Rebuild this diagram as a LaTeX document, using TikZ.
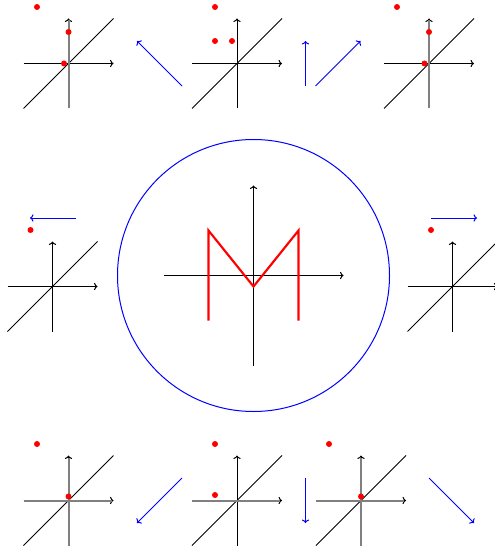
\documentclass[tikz,border=0pt]{standalone}
\usetikzlibrary{arrows.meta}
\begin{document}
\begin{tikzpicture}[x=0.75pt,y=-0.75pt,
  axisline/.style={black,line width=0.75pt},
  axarrow/.style={axisline,-{To[length=2.6pt,width=5.5pt]}},
  hilite/.style={gray,line width=1.5pt},
  mover/.style={blue,line width=0.75pt,-{To[length=2.6pt,width=5.5pt]}},
  dot/.style={red,fill=red},
  mshape/.style={red,line width=1.6pt,line join=miter}]
\useasboundingbox (0,0) rectangle (494,552);

% small plot: #1 = origin
\newcommand\myplot[1]{%
  \begin{scope}[shift={#1}]
    \draw[axarrow] (-45,0) -- (45,0);
    \draw[axarrow] (0,45) -- (0,-45);
    \draw[axisline] (-45,45) -- (45,-45);
  \end{scope}}

% ---- top row ----
\myplot{(68.5,63.5)}
\draw[hilite] (68.5,108.5) -- (68.5,20.5);
\fill[dot] (37,7) circle (3);
\fill[dot] (68.5,32) circle (3);
\fill[dot] (64,63.5) circle (3);

\coordinate (a1s) at (182,86); \coordinate (a1e) at (137,41);
\draw[mover] (a1s) -- (a1e);

\myplot{(237,63.5)}
\fill[dot] (215,7) circle (3);
\fill[dot] (215,41) circle (3);
\fill[dot] (232,41) circle (3);

\coordinate (a2s) at (305.5,86); \coordinate (a2e) at (305.5,41);
\draw[mover] (a2s) -- (a2e);
\coordinate (a3s) at (315.5,86); \coordinate (a3e) at (360.5,41);
\draw[mover] (a3s) -- (a3e);

\myplot{(429,63.5)}
\draw[hilite] (429,108.5) -- (429,20.5);
\fill[dot] (397,7) circle (3);
\fill[dot] (429,32) circle (3);
\fill[dot] (424.5,63.5) circle (3);

% ---- middle row ----
\coordinate (a4s) at (76,218); \coordinate (a4e) at (30,218);
\draw[mover] (a4s) -- (a4e);
\fill[dot] (30.5,230) circle (3);
\myplot{(52.5,286.5)}

\coordinate (a5s) at (431,218); \coordinate (a5e) at (477,218);
\draw[mover] (a5s) -- (a5e);
\fill[dot] (431,230) circle (3);
\myplot{(452.5,286.5)}

% big plot
\begin{scope}[shift={(253.5,275.5)}]
  \draw[blue,line width=0.75pt] (0,0) circle (136);
  \draw[axarrow] (-90,0) -- (90,0);
  \draw[axarrow] (0,90) -- (0,-90);
  \draw[mshape] (-45,45) -- (-45,-45) -- (0,11) -- (45,-45) -- (45,45);
\end{scope}

% ---- bottom row ----
\myplot{(68.5,500.5)}
\draw[hilite] (68.5,545.5) -- (68.5,457.5);
\draw[hilite] (23.5,500.5) -- (111.5,500.5);
\fill[dot] (37,444) circle (3);
\fill[dot] (68.5,496.5) circle (3);

\coordinate (b1s) at (182,478); \coordinate (b1e) at (137,523);
\draw[mover] (b1s) -- (b1e);

\myplot{(237,500.5)}
\draw[hilite] (192,500.5) -- (280,500.5);
\fill[dot] (215,444) circle (3);
\fill[dot] (215,495) circle (3);

\coordinate (b2s) at (305.5,478); \coordinate (b2e) at (305.5,523);
\draw[mover] (b2s) -- (b2e);

\myplot{(361,500.5)}
\draw[hilite] (361,545.5) -- (361,457.5);
\draw[hilite] (316,500.5) -- (404,500.5);
\fill[dot] (329,444) circle (3);
\fill[dot] (361,496.5) circle (3);

\coordinate (b3s) at (429,478); \coordinate (b3e) at (474,523);
\draw[mover] (b3s) -- (b3e);
\end{tikzpicture}
\end{document}
